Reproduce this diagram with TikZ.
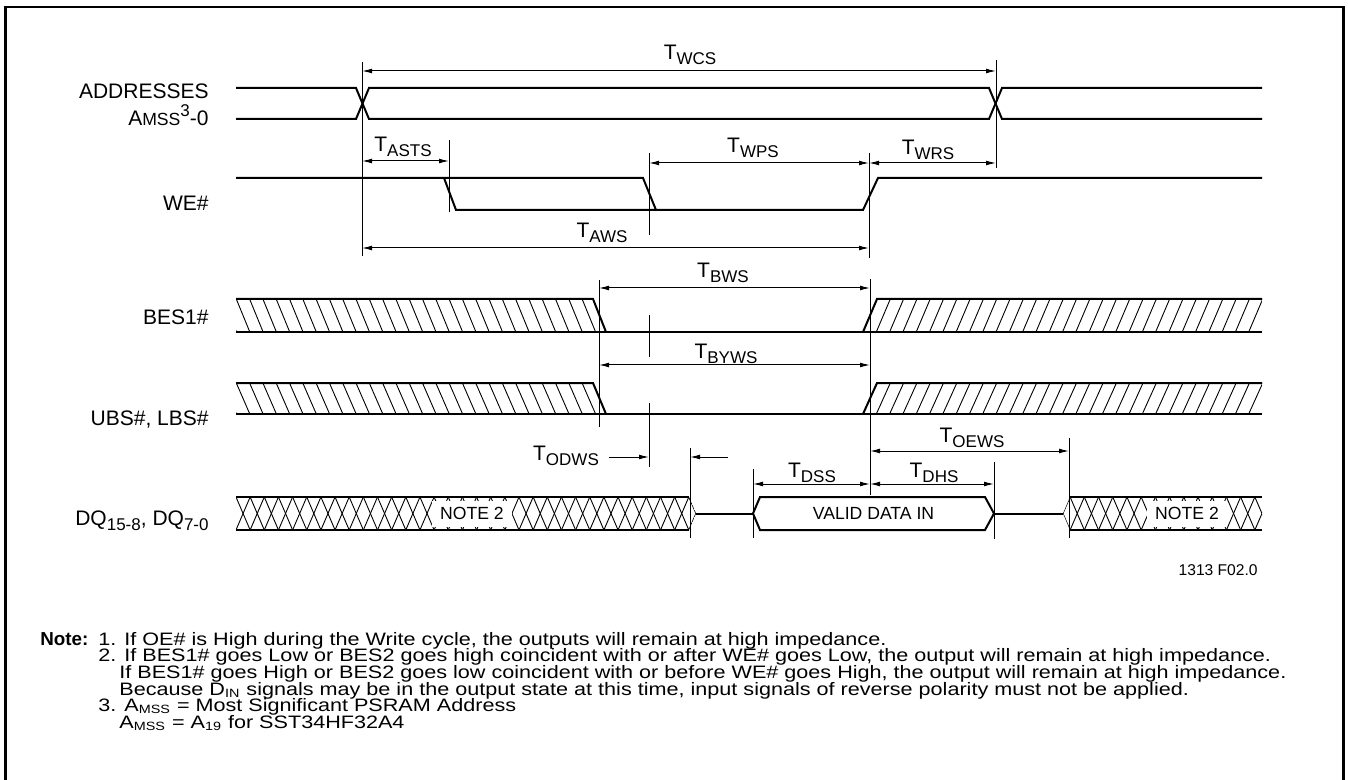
\documentclass[tikz,border=0pt]{standalone}
\usepackage{fontspec}
\setmainfont{Liberation Sans}
\newfontfamily\notefont[FakeStretch=1.2]{Liberation Sans}
\usetikzlibrary{arrows.meta,positioning}
\tikzset{
  sig/.style={line width=1pt},
  guide/.style={line width=0.5pt},
  hatch/.style={line width=0.45pt},
  dimarrow/.style={
      line width=0.5pt,
      {Latex[length=5pt,width=2.4pt]}-{Latex[length=5pt,width=2.4pt]},
  },
  onearrow/.style={
      line width=0.5pt,
      -{Latex[length=5pt,width=2.4pt]},
  },
  signame/.style={
      anchor=base east,
      inner sep=0pt,
      font=\fontsize{10.5}{12}\selectfont,
  },
  tlabel/.style={
      anchor=base,
      inner sep=0pt,
      font=\fontsize{10.5}{12}\selectfont,
  },
  bustext/.style={
      inner sep=0pt,
      font=\fontsize{8.8}{10}\selectfont,
  },
  notefill/.style={
      bustext,
      fill=white,
      minimum width=40pt,
      minimum height=13pt,
  },
  noteline/.style={
      anchor=base west,
      inner sep=0pt,
      font=\notefont\fontsize{9}{10}\selectfont,
  },
}
\newcommand{\lsub}[1]{\raisebox{-2.5pt}{\fontsize{8.5}{10}\selectfont #1}}
\newcommand{\tname}[1]{T\lsub{#1}}

\begin{document}
\begin{tikzpicture}[x=0.5pt,y=-0.5pt]
  \useasboundingbox (0,0) rectangle (1348,780);
  % frame
  \draw[line width=1.3pt] (5.5,785) -- (5.5,7) -- (1343.5,7) -- (1343.5,785);

  % signal names
  \node[signame] (addr)  at (209,99)  {ADDRESSES};
  \node[signame] (amss)  at (209,126) {A{\fontsize{8.8}{10}\selectfont MSS}\raisebox{4.5pt}{\fontsize{8.5}{10}\selectfont 3}-0};
  \node[signame] (we)    at (209,211) {WE\#};
  \node[signame] (bes)   at (209,325) {BES1\#};
  \node[signame] (ubs)   at (209,425) {UBS\#, LBS\#};
  \node[signame] (dq)    at (209,525) {DQ\lsub{15-8}, DQ\lsub{7-0}};

  % addresses
  \draw[sig] (236,88) -- (356,88) -- (369,119) -- (989,119) -- (1002,88) -- (1262,88);
  \draw[sig] (236,119) -- (356,119) -- (369,88) -- (989,88) -- (1002,119) -- (1262,119);

  % WE#
  \draw[sig] (236,178) -- (643,178) -- (656,210);
  \draw[sig] (444,178) -- (456,210) -- (863,210) -- (878,178) -- (1262,178);

  % BES1# and UBS#/LBS#
  \foreach \hi/\lo in {299/332, 383/414}{
    \begin{scope}
      \clip (236,\hi) -- (593,\hi) -- (606,\lo) -- (236,\lo) -- cycle;
      \foreach \x in {223,236.3,...,620} \draw[hatch] (\x,\hi) -- (\x+13.5,\lo);
    \end{scope}
    \begin{scope}
      \clip (863,\lo) -- (877,\hi) -- (1262,\hi) -- (1262,\lo) -- cycle;
      \foreach \x in {863,876.3,...,1270} \draw[hatch] (\x,\lo) -- (\x+14,\hi);
    \end{scope}
    \draw[sig] (236,\hi) -- (593,\hi) -- (606,\lo);
    \draw[sig] (236,\lo) -- (1262,\lo);
    \draw[sig] (863,\lo) -- (877,\hi) -- (1262,\hi);
  }

  % DQ bus
  \begin{scope}
    \clip (236,497) -- (689,497) -- (696,513.5) -- (689,530) -- (236,530) -- cycle;
    \foreach \k in {0,...,32}{
      \draw[hatch] (236+\k*14.15,497) -- (236+\k*14.15+14.15,530);
      \draw[hatch] (236+\k*14.15,530) -- (236+\k*14.15+14.15,497);
    }
  \end{scope}
  \begin{scope}
    \clip (1063,513.5) -- (1070,497) -- (1262,497) -- (1262,530) -- (1070,530) -- cycle;
    \foreach \k in {0,...,14}{
      \draw[hatch] (1055.9+\k*14.21,497) -- (1055.9+\k*14.21+14.21,530);
      \draw[hatch] (1055.9+\k*14.21,530) -- (1055.9+\k*14.21+14.21,497);
    }
  \end{scope}
  \draw[sig] (236,497) -- (689,497);
  \draw[sig] (236,530) -- (689,530);
  \draw[sig] (1070,497) -- (1262,497);
  \draw[sig] (1070,530) -- (1262,530);
  \draw[sig] (696,513.5) -- (753,513.5);
  \draw[sig] (994,513.5) -- (1063,513.5);
  \draw[sig] (753,513.5) -- (760,497) -- (985,497) -- (994,513.5) -- (985,530) -- (760,530) -- cycle;
  \node[notefill] (note2a) at (472,513.5) {NOTE 2};
  \node[notefill] (note2b) at (1187,513.5) {NOTE 2};
  \node[bustext] (valid) at (873.5,513.5) {VALID DATA IN};

  % guide lines
  \draw[guide] (362,62) -- (362,256);
  \draw[guide] (996,60) -- (996,168);
  \draw[guide] (449,140) -- (449,212);
  \draw[guide] (649,153) -- (649,235);
  \draw[guide] (869,153) -- (869,258);
  \draw[guide] (870,279) -- (870,495);
  \draw[guide] (599,280) -- (599,427);
  \draw[guide] (649,315) -- (649,357);
  \draw[guide] (649,403) -- (649,467);
  \draw[guide] (690,448) -- (690,538);
  \draw[guide] (753,469) -- (753,538);
  \draw[guide] (994,462) -- (994,539);
  \draw[guide] (1069,438) -- (1069,538);

  % timing arrows
  \draw[dimarrow] (362,71) -- (996,71);
  \draw[dimarrow] (362,161) -- (449,161);
  \draw[dimarrow] (649,163) -- (869,163);
  \draw[dimarrow] (869,163) -- (996,163);
  \draw[dimarrow] (362,248) -- (869,248);
  \draw[dimarrow] (599,288) -- (870,288);
  \draw[dimarrow] (599,365) -- (870,365);
  \draw[onearrow] (609,457) -- (649,457);
  \draw[onearrow] (728,457) -- (690,457);
  \draw[dimarrow] (870,451) -- (1069,451);
  \draw[dimarrow] (753,484) -- (870,484);
  \draw[dimarrow] (870,484) -- (994,484);

  % timing names
  \node[tlabel] (twcs)  at (690,60)  {\tname{WCS}};
  \node[tlabel] (tasts) at (403,152) {\tname{ASTS}};
  \node[tlabel] (twps)  at (753,153) {\tname{WPS}};
  \node[tlabel] (twrs)  at (928,155) {\tname{WRS}};
  \node[tlabel] (taws)  at (602,238) {\tname{AWS}};
  \node[tlabel] (tbws)  at (723,278) {\tname{BWS}};
  \node[tlabel] (tbyws) at (726,358) {\tname{BYWS}};
  \node[tlabel] (todws) at (566,460) {\tname{ODWS}};
  \node[tlabel] (tdss)  at (812,477) {\tname{DSS}};
  \node[tlabel] (toews) at (972,442) {\tname{OEWS}};
  \node[tlabel] (tdhs)  at (934,477) {\tname{DHS}};

  \node[anchor=base east, inner sep=0pt, font=\fontsize{7.8}{9}\selectfont] (fig) at (1258,575) {1313 F02.0};

  % notes
  \node[anchor=base west, inner sep=0pt, font=\fontsize{9.4}{10}\selectfont] (notehead) at (40,645) {\textbf{Note:}};
  \node[noteline] (n1)  at (98,645)    {1. If OE\# is High during the Write cycle, the outputs will remain at high impedance.};
  \node[noteline] (n2)  at (98,661.7)  {2. If BES1\# goes Low or BES2 goes high coincident with or after WE\# goes Low, the output will remain at high impedance.};
  \node[noteline] (n2b) at (119,678.4) {If BES1\# goes High or BES2 goes low coincident with or before WE\# goes High, the output will remain at high impedance.};
  \node[noteline] (n2c) at (119,695.1) {Because D\textsubscript{IN} signals may be in the output state at this time, input signals of reverse polarity must not be applied.};
  \node[noteline] (n3)  at (98,711.8)  {3. A\textsubscript{MSS} = Most Significant PSRAM Address};
  \node[noteline] (n3b) at (119,728.5) {A\textsubscript{MSS} = A\textsubscript{19} for SST34HF32A4};
\end{tikzpicture}
\end{document}
